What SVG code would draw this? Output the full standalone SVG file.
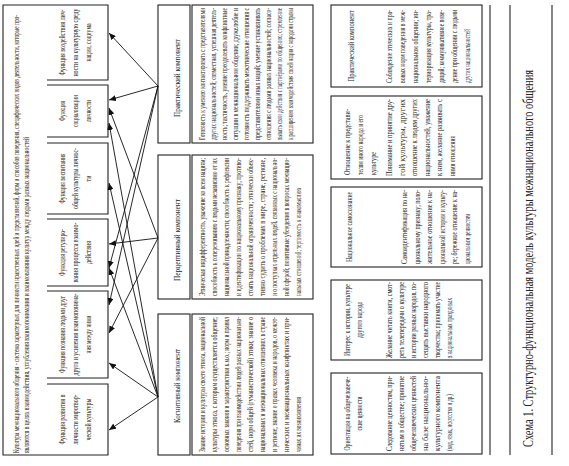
<svg xmlns="http://www.w3.org/2000/svg" width="569" height="466" viewBox="0 0 569 466">
<style>
.b{fill:none;stroke:#222;stroke-width:1.1}
.t{font-family:"Liberation Serif","Times New Roman",serif;font-size:8px;fill:#222}
.f{font-size:8.5px;text-anchor:middle}
.h{font-size:9px;text-anchor:middle}
.c{fill:none;stroke:#111;stroke-width:0.9;marker-end:url(#ah)}
.cap{font-family:"Liberation Serif","Times New Roman",serif;font-size:14px;fill:#222}
</style>
<defs>
<marker id="ah" markerUnits="userSpaceOnUse" markerWidth="7" markerHeight="6" refX="7" refY="3" orient="auto">
<path d="M0,0 L7,3 L0,6 z" fill="#111"/>
</marker>
</defs>
<rect width="569" height="466" fill="#fff"/>
<g transform="translate(0,466) rotate(-90)">
<g id="definition">
<path class="b" d="M11,47 V3 H461 V47"/>
<g transform="scale(0.62,1)">
<text class="t" x="20.97" y="19" textLength="706.45" lengthAdjust="spacingAndGlyphs">Культура межнационального общения - система характерных для личности нравственных идей и представлений, форм и способов поведения, специфических видов деятельности, которые про-</text>
<text class="t" x="20.97" y="29" textLength="509.68" lengthAdjust="spacingAndGlyphs">являются в целях взаимодействия, углубления взаимопонимания и взаимовлияния культур между людьми разных национальностей</text>
</g>
</g>
<g id="fn-vozdeistvie">
<path class="b" d="M386,47 V108 H461 V47"/>
<g transform="scale(0.7,1)">
<text class="t f" x="605" y="65" textLength="94.29" lengthAdjust="spacingAndGlyphs">Функция воздействия лич-</text>
<text class="t f" x="605" y="78" textLength="97.14" lengthAdjust="spacingAndGlyphs">ности на культурную среду</text>
<text class="t f" x="605" y="91" textLength="54.29" lengthAdjust="spacingAndGlyphs">нации, социума</text>
</g>
</g>
<g id="fn-socializacia">
<path class="b" d="M329,47 V108 H381 V47"/>
<g transform="scale(0.7,1)">
<text class="t f" x="507.14" y="65" textLength="28.57" lengthAdjust="spacingAndGlyphs">Функция</text>
<text class="t f" x="507.14" y="78" textLength="45.71" lengthAdjust="spacingAndGlyphs">социализации</text>
<text class="t f" x="507.14" y="91" textLength="31.43" lengthAdjust="spacingAndGlyphs">личности</text>
</g>
</g>
<g id="fn-vospitanie">
<path class="b" d="M252,47 V108 H323 V47"/>
<g transform="scale(0.7,1)">
<text class="t f" x="410.71" y="65" textLength="71.43" lengthAdjust="spacingAndGlyphs">Функция воспитания</text>
<text class="t f" x="410.71" y="78" textLength="87.14" lengthAdjust="spacingAndGlyphs">общей культуры личнос-</text>
<text class="t f" x="410.71" y="91">ти</text>
</g>
</g>
<g id="fn-regulirovanie">
<path class="b" d="M180,47 V108 H247 V47"/>
<g transform="scale(0.7,1)">
<text class="t f" x="305" y="65" textLength="67.14" lengthAdjust="spacingAndGlyphs">Функция регулиро-</text>
<text class="t f" x="305" y="78" textLength="85.71" lengthAdjust="spacingAndGlyphs">вания процесса взаимо-</text>
<text class="t f" x="305" y="91" textLength="32.86" lengthAdjust="spacingAndGlyphs">действия</text>
</g>
</g>
<g id="fn-poznanie">
<path class="b" d="M88,47 V108 H175 V47"/>
<g transform="scale(0.7,1)">
<text class="t f" x="187.86" y="65" textLength="110" lengthAdjust="spacingAndGlyphs">Функция познания людьми друг</text>
<text class="t f" x="187.86" y="78" textLength="117.14" lengthAdjust="spacingAndGlyphs">друга и усиления взаимопонима-</text>
<text class="t f" x="187.86" y="91" textLength="54.29" lengthAdjust="spacingAndGlyphs">ния между ними</text>
</g>
</g>
<g id="fn-razvitie">
<path class="b" d="M11,47 V108 H82 V47"/>
<g transform="scale(0.7,1)">
<text class="t f" x="66.43" y="65" textLength="71.43" lengthAdjust="spacingAndGlyphs">Функция развития в</text>
<text class="t f" x="66.43" y="78" textLength="71.43" lengthAdjust="spacingAndGlyphs">личности миротвор-</text>
<text class="t f" x="66.43" y="91" textLength="60" lengthAdjust="spacingAndGlyphs">ческой культуры</text>
</g>
</g>
<g id="comp-practical">
<rect class="b" x="323" y="158" width="138" height="32"/>
<text class="t h" transform="scale(0.85,1)" x="456.47" y="180" textLength="91.76" lengthAdjust="spacingAndGlyphs">Практический компонент</text>
</g>
<g id="comp-practical-content">
<rect class="b" x="323" y="192" width="138" height="121"/>
<g transform="scale(0.62,1)">
<text class="t" x="525.81" y="205.5" textLength="212.9" lengthAdjust="spacingAndGlyphs">Готовность к умению контактировать с представителями</text>
<text class="t" x="525.81" y="216.5" textLength="212.9" lengthAdjust="spacingAndGlyphs">других национальностей; совместная, успешная деятель-</text>
<text class="t" x="525.81" y="227.5" textLength="212.9" lengthAdjust="spacingAndGlyphs">ность; тактичность, умение преодолевать конфликтные</text>
<text class="t" x="525.81" y="238.5" textLength="212.9" lengthAdjust="spacingAndGlyphs">ситуации в межнациональном общении; дружелюбие и</text>
<text class="t" x="525.81" y="249.5" textLength="212.9" lengthAdjust="spacingAndGlyphs">готовность поддерживать межэтнические отношения с</text>
<text class="t" x="525.81" y="260.5" textLength="212.9" lengthAdjust="spacingAndGlyphs">представителями иных наций; умение устанавливать</text>
<text class="t" x="525.81" y="271.5" textLength="212.9" lengthAdjust="spacingAndGlyphs">отношения с людьми разных национальностей; согласо-</text>
<text class="t" x="525.81" y="282.5" textLength="212.9" lengthAdjust="spacingAndGlyphs">вывать свои действия с партнёрами по общению; стремление</text>
<text class="t" x="525.81" y="293.5" textLength="212.9" lengthAdjust="spacingAndGlyphs">к расширению взаимодействия своей нации с народами страны</text>
</g>
</g>
<g id="comp-perceptive">
<rect class="b" x="167" y="158" width="144" height="32"/>
<text class="t h" transform="scale(0.85,1)" x="265.88" y="180" textLength="96.47" lengthAdjust="spacingAndGlyphs">Перцептивный компонент</text>
</g>
<g id="comp-perceptive-content">
<rect class="b" x="167" y="192" width="144" height="121"/>
<g transform="scale(0.7,1)">
<text class="t" x="242.86" y="205.5" textLength="197.14" lengthAdjust="spacingAndGlyphs">Этническая индифферентность, уважение ко всем нациям;</text>
<text class="t" x="242.86" y="217.5" textLength="197.14" lengthAdjust="spacingAndGlyphs">способность к сопереживанию с людьми независимо от их</text>
<text class="t" x="242.86" y="229.5" textLength="197.14" lengthAdjust="spacingAndGlyphs">национальной принадлежности; способность к рефлексии</text>
<text class="t" x="242.86" y="241.5" textLength="197.14" lengthAdjust="spacingAndGlyphs">и идентификации по национальному признаку; противо-</text>
<text class="t" x="242.86" y="253.5" textLength="197.14" lengthAdjust="spacingAndGlyphs">стоять национальной ограниченности; этнически объек-</text>
<text class="t" x="242.86" y="265.5" textLength="197.14" lengthAdjust="spacingAndGlyphs">тивно судить о проблемах в мире, стране, регионе,</text>
<text class="t" x="242.86" y="277.5" textLength="197.14" lengthAdjust="spacingAndGlyphs">и о поступках отдельных людей, связанных с национально-</text>
<text class="t" x="242.86" y="289.5" textLength="197.14" lengthAdjust="spacingAndGlyphs">ной сферой; позитивные убеждения в вопросах межнацио-</text>
<text class="t" x="242.86" y="301.5" textLength="154.29" lengthAdjust="spacingAndGlyphs">нальных отношений; терпимость к инакомыслию</text>
</g>
</g>
<g id="comp-cognitive">
<rect class="b" x="11" y="158" width="141" height="32"/>
<text class="t h" transform="scale(0.85,1)" x="94.12" y="180" textLength="87.06" lengthAdjust="spacingAndGlyphs">Когнитивный компонент</text>
</g>
<g id="comp-cognitive-content">
<rect class="b" x="11" y="192" width="141" height="121"/>
<g transform="scale(0.7,1)">
<text class="t" x="20" y="205.5" textLength="192.86" lengthAdjust="spacingAndGlyphs">Знание истории и культуры своего этноса, национальной</text>
<text class="t" x="20" y="217.5" textLength="192.86" lengthAdjust="spacingAndGlyphs">культуры этноса, с которым осуществляется общение;</text>
<text class="t" x="20" y="229.5" textLength="192.86" lengthAdjust="spacingAndGlyphs">основных законов и характеристики к.м.о.; норм и правил</text>
<text class="t" x="20" y="241.5" textLength="192.86" lengthAdjust="spacingAndGlyphs">поведения при взаимодействии людей разных национально-</text>
<text class="t" x="20" y="253.5" textLength="192.86" lengthAdjust="spacingAndGlyphs">стей, норм общей (гуманистической) этики; знание о</text>
<text class="t" x="20" y="265.5" textLength="192.86" lengthAdjust="spacingAndGlyphs">национальных и межнациональных отношениях в стране</text>
<text class="t" x="20" y="277.5" textLength="192.86" lengthAdjust="spacingAndGlyphs">и регионе; знание о правах человека и народов, о межэт-</text>
<text class="t" x="20" y="289.5" textLength="192.86" lengthAdjust="spacingAndGlyphs">нических и межнациональных конфликтах и при-</text>
<text class="t" x="20" y="301.5" textLength="78.57" lengthAdjust="spacingAndGlyphs">чинах их возникновения</text>
</g>
</g>
<g id="row-practical">
<rect class="b" x="379" y="331" width="82" height="151"/>
<g transform="scale(0.7,1)">
<text class="t f" x="600" y="354" textLength="101.43" lengthAdjust="spacingAndGlyphs">Практический компонент</text>
<text class="t" x="547.14" y="392.5" textLength="104.29" lengthAdjust="spacingAndGlyphs">Соблюдение этических и пра-</text>
<text class="t" x="547.14" y="405.5" textLength="104.29" lengthAdjust="spacingAndGlyphs">вовых норм поведения в меж-</text>
<text class="t" x="547.14" y="418.5" textLength="104.29" lengthAdjust="spacingAndGlyphs">национальном общении; ин-</text>
<text class="t" x="547.14" y="431.5" textLength="104.29" lengthAdjust="spacingAndGlyphs">териоризация культуры, тра-</text>
<text class="t" x="547.14" y="444.5" textLength="104.29" lengthAdjust="spacingAndGlyphs">диций; коммуникативное пове-</text>
<text class="t" x="547.14" y="457.5" textLength="104.29" lengthAdjust="spacingAndGlyphs">дение при общении с людьми</text>
<text class="t" x="547.14" y="470.5" textLength="77.14" lengthAdjust="spacingAndGlyphs">других национальностей</text>
</g>
</g>
<g id="row-attitude">
<rect class="b" x="287" y="331" width="83" height="151"/>
<g transform="scale(0.7,1)">
<text class="t" x="415.71" y="350" textLength="94.29" lengthAdjust="spacingAndGlyphs">Отношение к представи-</text>
<text class="t" x="415.71" y="363" textLength="85.71" lengthAdjust="spacingAndGlyphs">телям иного народа и его</text>
<text class="t" x="415.71" y="376" textLength="32.86" lengthAdjust="spacingAndGlyphs">культуре</text>
<text class="t" x="414.29" y="392.5" textLength="110" lengthAdjust="spacingAndGlyphs">Понимание и принятие дру-</text>
<text class="t" x="414.29" y="405" textLength="110" lengthAdjust="spacingAndGlyphs">гой культуры, других</text>
<text class="t" x="414.29" y="417.5" textLength="110" lengthAdjust="spacingAndGlyphs">отношение к людям других</text>
<text class="t" x="414.29" y="430" textLength="110" lengthAdjust="spacingAndGlyphs">национальностей, уважение</text>
<text class="t" x="414.29" y="442.5" textLength="110" lengthAdjust="spacingAndGlyphs">к ним, желание развивать с</text>
<text class="t" x="414.29" y="455" textLength="57.14" lengthAdjust="spacingAndGlyphs">ними отношения</text>
</g>
</g>
<g id="row-selfawareness">
<rect class="b" x="199" y="331" width="80" height="151"/>
<g transform="scale(0.7,1)">
<text class="t f" x="341.43" y="352" textLength="100" lengthAdjust="spacingAndGlyphs">Национальное самосознание</text>
<text class="t" x="288.57" y="407.5" textLength="105.71" lengthAdjust="spacingAndGlyphs">Самоидентификация по на-</text>
<text class="t" x="288.57" y="420" textLength="105.71" lengthAdjust="spacingAndGlyphs">циональному признаку; поло-</text>
<text class="t" x="288.57" y="432.5" textLength="105.71" lengthAdjust="spacingAndGlyphs">жительное отношение к на-</text>
<text class="t" x="288.57" y="445" textLength="105.71" lengthAdjust="spacingAndGlyphs">циональной истории и культу-</text>
<text class="t" x="288.57" y="457.5" textLength="105.71" lengthAdjust="spacingAndGlyphs">ре; бережное отношение к на-</text>
<text class="t" x="288.57" y="470" textLength="71.43" lengthAdjust="spacingAndGlyphs">циональным ценностям</text>
</g>
</g>
<g id="row-interest">
<rect class="b" x="106" y="331" width="80" height="151"/>
<g transform="scale(0.7,1)">
<text class="t f" x="208.57" y="350" textLength="102.86" lengthAdjust="spacingAndGlyphs">Интерес к истории, культуре</text>
<text class="t f" x="208.57" y="362" textLength="51.43" lengthAdjust="spacingAndGlyphs">другого народа</text>
<text class="t" x="154.29" y="392" textLength="108.57" lengthAdjust="spacingAndGlyphs">Желание читать книги, смот-</text>
<text class="t" x="154.29" y="404" textLength="108.57" lengthAdjust="spacingAndGlyphs">реть телепередачи о культуре</text>
<text class="t" x="154.29" y="416" textLength="108.57" lengthAdjust="spacingAndGlyphs">и истории разных народов, по-</text>
<text class="t" x="154.29" y="428" textLength="108.57" lengthAdjust="spacingAndGlyphs">сещать выставки народного</text>
<text class="t" x="154.29" y="440" textLength="108.57" lengthAdjust="spacingAndGlyphs">творчества; принимать участие</text>
<text class="t" x="154.29" y="452" textLength="85.71" lengthAdjust="spacingAndGlyphs">в национальных праздниках</text>
</g>
</g>
<g id="row-values">
<rect class="b" x="12" y="331" width="81" height="151"/>
<g transform="scale(0.7,1)">
<text class="t f" x="75" y="350" textLength="105.71" lengthAdjust="spacingAndGlyphs">Ориентация на общечеловече-</text>
<text class="t f" x="75" y="362" textLength="48.57" lengthAdjust="spacingAndGlyphs">ские ценности</text>
<text class="t" x="21.43" y="392" textLength="107.14" lengthAdjust="spacingAndGlyphs">Следование ценностям, при-</text>
<text class="t" x="21.43" y="404" textLength="107.14" lengthAdjust="spacingAndGlyphs">нятым в обществе; принятие</text>
<text class="t" x="21.43" y="416" textLength="107.14" lengthAdjust="spacingAndGlyphs">общечеловеческих ценностей</text>
<text class="t" x="21.43" y="428" textLength="107.14" lengthAdjust="spacingAndGlyphs">на базе национально-</text>
<text class="t" x="21.43" y="440" textLength="107.14" lengthAdjust="spacingAndGlyphs">культурного компонента</text>
<text class="t" x="21.43" y="452" textLength="81.43" lengthAdjust="spacingAndGlyphs">(вид, язык, искусство и др.)</text>
</g>
</g>
<g id="connectors">
<line class="c" x1="380" y1="158" x2="433" y2="109"/>
<line class="c" x1="380" y1="158" x2="366" y2="109"/>
<line class="c" x1="380" y1="158" x2="198" y2="109"/>
<line class="c" x1="380" y1="158" x2="161" y2="109"/>
<line class="c" x1="228" y1="158" x2="358" y2="109"/>
<line class="c" x1="228" y1="158" x2="222" y2="109"/>
<line class="c" x1="228" y1="158" x2="133" y2="109"/>
<line class="c" x1="69" y1="158" x2="343" y2="109"/>
<line class="c" x1="69" y1="158" x2="283" y2="109"/>
<line class="c" x1="69" y1="158" x2="198" y2="109"/>
<line class="c" x1="69" y1="158" x2="103" y2="109"/>
<line class="c" x1="69" y1="158" x2="36" y2="109"/>
</g>
<g id="caption">
<line class="b" x1="11" y1="490" x2="461" y2="490"/>
<line class="b" x1="11" y1="510" x2="461" y2="510"/>
<line class="b" x1="11" y1="552" x2="461" y2="552"/>
<text class="cap" transform="scale(0.8,1)" x="23.75" y="533" textLength="471.25" lengthAdjust="spacingAndGlyphs">Схема 1. Структурно-функциональная модель культуры межнационального общения</text>
</g>
</g>
</svg>
